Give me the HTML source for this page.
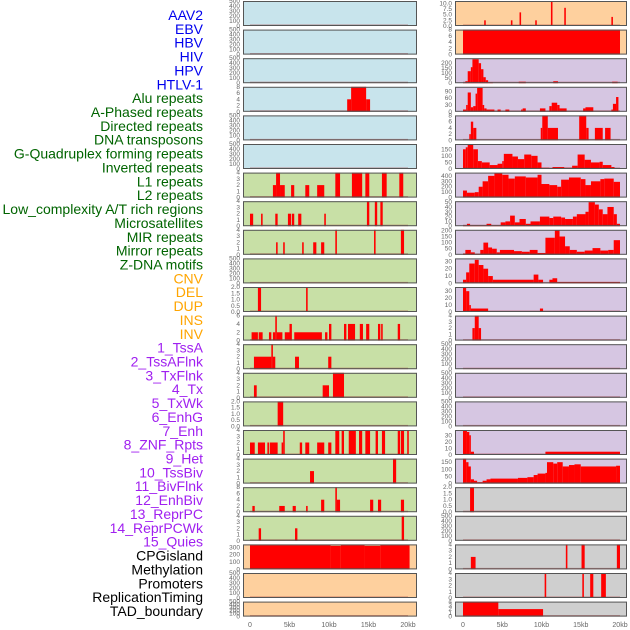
<!DOCTYPE html>
<html><head><meta charset="utf-8"><style>
body{margin:0;background:#fff;width:630px;height:630px;overflow:hidden;font-family:"Liberation Sans",sans-serif}
svg{display:block}
</style></head><body>
<svg id="c" width="630" height="630" xmlns="http://www.w3.org/2000/svg"></svg>
<script>
const labels=["AAV2","EBV","HBV","HIV","HPV","HTLV-1","Alu repeats","A-Phased repeats","Directed repeats","DNA transposons","G-Quadruplex forming repeats","Inverted repeats","L1 repeats","L2 repeats","Low_complexity A/T rich regions","Microsatellites","MIR repeats","Mirror repeats","Z-DNA motifs","CNV","DEL","DUP","INS","INV","1_TssA","2_TssAFlnk","3_TxFlnk","4_Tx","5_TxWk","6_EnhG","7_Enh","8_ZNF_Rpts","9_Het","10_TssBiv","11_BivFlnk","12_EnhBiv","13_ReprPC","14_ReprPCWk","15_Quies","CPGisland","Methylation","Promoters","ReplicationTiming","TAD_boundary"];
const labelColors=[0,0,0,0,0,0,1,1,1,1,1,1,1,1,1,1,1,1,1,2,2,2,2,2,3,3,3,3,3,3,3,3,3,3,3,3,3,3,3,4,4,4,4,4];
const palette=["#0000ee","#006400","#ffa500","#a020f0","#000000"];
const xTicks=[0,5,10,15,20];
const xTickLabels=["0","5kb","10kb","15kb","20kb"];
const leftBg=["b","b","b","b","b","b","g","g","g","g","g","g","g","g","g","g","g","g","g","o","o","o"];
const rightBg=["o","o","p","p","p","p","p","p","p","p","p","p","p","p","p","p","p","y","y","y","y","y"];
const leftTicks=[[0,100,200,300,400,500],[0,100,200,300,400,500],[0,100,200,300,400,500],[0,2,4,6,8],[0,100,200,300,400,500],[0,100,200,300,400,500],[0,1,2,3,4],[0,1,2,3,4],[0,1,2,3,4],[0,100,200,300,400,500],[0,0.5,1,1.5,2],[0,2,4,6],[0,1,2,3,4],[0,1,2,3,4],[0,0.5,1,1.5,2],[0,1,2,3,4],[0,1,2,3,4],[0,2,4,6,8],[0,1,2,3,4],[0,100,200,300],[0,100,200,300,400,500],[0,100,200,300,400,500]];
const leftYmax=[500,500,500,8,500,500,4,4,4,500,2,6,4,4,2,4,4,8,4,340,500,500];
const leftSegs=[[],[],[],
[[12.3,12.8,4],[12.8,14.7,8],[14.7,15.2,4]],[],[],
[[2.9,3.3,2],[3.3,3.8,4],[3.8,4.4,2],[5.2,5.6,2],[7,7.5,2],[8.5,9.4,2],[10.8,11.4,4],[12.9,14.2,4],[14.6,15.1,4],[16.7,17.3,4],[18.9,19.4,4]],
[[0,0.4,2],[1.4,1.6,2],[3.2,3.5,2],[4.8,5.2,2],[5.3,5.6,2],[6.1,6.5,2],[9.4,9.6,2],[14.8,15.1,4],[15.8,16.1,4],[16.5,16.8,4]],
[[3.3,3.5,2],[4.2,4.4,2],[6.6,6.8,2],[8,8.4,2],[9,9.4,2],[10.8,11,4],[15.7,15.9,4],[19.1,19.5,4]],
[],
[[1,1.4,2],[7.1,7.3,2]],
[[0.2,1.0,2],[1.1,1.6,2],[2.4,2.7,2],[2.9,3.2,2],[3.2,3.4,6],[3.4,4.1,2],[4.4,5.0,2],[5.0,5.3,4],[5.6,9.1,2],[9.5,9.8,2],[10,10.3,4],[11.9,12.2,4],[12.4,13.3,4],[13.9,14.3,4],[14.7,15.1,4],[16.2,16.5,4],[16.6,16.8,4],[18.7,19,4]],
[[0.5,2.7,2],[2.7,2.9,4],[2.9,3.2,2],[5.7,6.2,2],[9.9,10.3,2]],
[[0.5,0.85,2],[9.2,10,2],[10.5,11.9,4]],
[[3.5,4.2,2]],
[[0,0.6,2],[1,1.9,2],[2.2,2.4,2],[2.5,3.5,2],[4,4.2,2],[4.2,4.4,4],[6.3,6.6,2],[7,7.5,2],[8.5,9.4,2],[9.9,10.3,2],[10.8,11.3,4],[11.6,11.9,4],[12.5,13.4,4],[13.8,14.2,4],[14.6,15.2,4],[15.9,16.2,4],[16.7,17.1,4],[18.7,19,4],[19.1,19.5,4],[19.9,20.1,4]],
[[7.6,8.1,2],[18.1,18.5,4]],
[[0.3,0.6,2],[3.7,4.4,2],[5.4,5.8,2],[7.1,7.3,2],[9,9.4,4],[10.8,11,8],[11,11.4,4],[15.2,15.6,4],[16.2,16.6,4],[19.1,19.5,4]],
[[1.1,1.4,2],[5.7,6,2],[19.2,19.5,4]],
[[0,10.2,330],[10.2,11.5,320],[11.5,14.5,330],[14.5,16.5,320],[16.5,20.2,330]],
[],[]];
const rightTicks=[[0,2.5,5,7.5,10],[0,2,4,6,8],[0,50,100,150,200],[0,30,60,90],[0,2,4,6,8],[0,50,100,150],[0,100,200,300,400],[0,10,20,30,40,50],[0,50,100,150,200],[0,10,20,30],[0,10,20,30],[0,1,2,3,4],[0,100,200,300,400,500],[0,100,200,300,400,500],[0,100,200,300,400,500],[0,10,20,30],[0,50,100,150],[0,0.5,1,1.5,2],[0,100,200,300,400,500],[0,1,2,3,4],[0,1,2,3,4],[0,1,2,3,4]];
const rightYmax=[11,8,250,110,8,190,460,52,205,34,36,4,500,500,500,38,175,2,500,4,4,4];
const rightSegs=[
[[2.7,2.9,2.5],[6.1,6.3,2.5],[7.2,7.4,6],[9.2,9.4,2.5],[11.2,11.4,11],[12.9,13.1,8],[18.9,19.1,4]],
[[0,20,8]],
[[0,0.3,5],[0.3,0.6,20],[0.6,1.0,120],[1.0,1.2,160],[1.2,2.0,240],[2.0,2.3,200],[2.3,2.6,140],[2.6,2.9,60],[2.9,3.2,30],[3.2,3.8,10],[7.1,8.0,15],[11.5,12.1,20],[19.0,19.7,15]],
[[0,0.4,10],[0.4,0.6,30],[0.6,1.0,85],[1.0,1.3,20],[1.3,1.6,25],[1.6,1.8,80],[1.8,2.5,105],[2.5,2.7,30],[2.7,3.0,15],[3.0,4.0,10],[4.4,4.8,10],[5.4,5.9,10],[7.4,7.6,10],[7.6,8.0,15],[9.8,10.5,15],[11.0,11.3,25],[11.3,12.0,40],[12.0,12.3,30],[12.3,13.2,15],[15.3,15.6,15],[15.6,16.6,20],[18.9,19.1,10],[19.1,19.5,35],[19.5,19.8,65]],
[[0.8,1.0,2],[1.0,1.3,6],[1.3,1.7,4],[9.9,10.1,4],[10.1,10.8,8],[10.8,12.1,4],[14.8,15.7,8],[15.7,16.0,4],[16.8,17.8,4],[18.1,18.8,4]],
[[0,0.35,150],[0.35,0.6,165],[0.6,1.3,190],[1.3,1.9,150],[1.9,2.4,60],[2.4,3.4,50],[3.4,4.4,30],[4.4,5.0,40],[5.0,5.2,60],[5.2,6.3,115],[6.3,7.0,95],[7.0,7.8,75],[7.8,8.7,110],[8.7,9.5,100],[9.5,10,50],[10,11,10],[11.4,12.9,15],[12.9,13.9,10],[13.9,14.6,25],[14.6,15.5,110],[15.5,16.3,70],[16.3,17.4,50],[17.4,17.8,55],[17.8,18.9,30],[18.9,19.3,15],[19.3,19.7,5]],
[[0,0.5,130],[0.5,1.5,90],[1.5,2.0,100],[2.0,2.5,200],[2.5,3.2,300],[3.2,4,400],[4,5,450],[5,5.8,420],[5.8,6.6,350],[6.6,8,390],[8,9.5,370],[9.5,10,420],[10,11,250],[11,12,230],[12,12.5,200],[12.5,13.5,330],[13.5,15,370],[15,15.6,340],[15.6,16.3,230],[16.3,17.5,300],[17.5,18,340],[18,19.2,350],[19.2,20,290]],
[[0,0.5,2],[0.5,0.9,5],[0.9,3,2],[3,3.6,5],[3.6,4.8,2],[4.8,5.4,8],[5.4,6,10],[6,6.6,22],[6.6,7.2,8],[7.2,8,15],[8,8.6,5],[8.6,9.8,10],[9.8,11,20],[11,11.5,17],[11.5,12.5,20],[12.5,13,18],[13,14,15],[14,14.5,20],[14.5,15.6,25],[15.6,16,30],[16,16.8,50],[16.8,17.3,45],[17.3,17.8,35],[17.8,18.4,25],[18.4,19.2,40],[19.2,19.6,25],[19.6,20,5]],
[[0,0.3,10],[0.3,1,40],[1,1.5,20],[1.5,2.2,5],[2.2,2.6,40],[2.6,3.2,100],[3.2,3.7,60],[3.7,4.3,50],[4.3,4.7,20],[4.7,6.5,40],[6.5,7.5,30],[7.5,8.5,25],[8.5,9.5,40],[9.5,10.5,15],[10.5,11.7,140],[11.7,12.3,200],[12.3,13,150],[13,13.6,70],[13.6,14.5,40],[14.5,15.5,25],[15.5,16.5,35],[16.5,17.5,55],[17.5,18.5,35],[18.5,19.2,40],[19.2,20,120]],
[[0,0.4,5],[0.4,0.8,15],[0.8,1.5,27],[1.5,2,32],[2,2.6,25],[2.6,3.2,20],[3.2,3.8,10],[3.8,9,5],[9,9.6,12],[9.6,10.2,5],[11,11.4,5],[11.4,12,7],[12,20,2]],
[[0,0.4,36],[0.4,0.8,30],[0.8,1.0,10],[1.0,3.2,5],[3.2,9.8,1],[9.8,10.2,5],[10.2,20,1]],
[[1.2,1.5,2],[1.5,2,4],[2,2.3,2]],
[],[],[],
[[0,0.5,38],[0.5,0.8,35],[0.8,1.0,30],[1.0,1.4,5],[1.4,10.5,1],[10.5,20,5]],
[[0,0.4,175],[0.4,0.7,150],[0.7,1.0,120],[1.0,1.4,30],[1.4,1.8,20],[1.8,2.5,10],[2.5,3.0,20],[3.0,3.5,30],[3.5,7,35],[7,8.2,40],[8.2,9,45],[9,9.5,60],[9.5,10.5,70],[10.5,10.7,75],[10.7,11.5,150],[11.5,12,140],[12,12.7,150],[12.7,13.5,120],[13.5,14.2,130],[14.2,15,135],[15,19.5,120],[19.5,20,125]],
[[0.9,1.4,2]],
[],
[[1.0,1.6,2],[13.1,13.3,4],[15.1,15.5,4],[19.6,20,4]],
[[10.4,10.6,4],[15.2,15.4,4],[16.2,16.6,4],[17.6,18.2,4]],
[[0,4.5,4],[4.5,10.2,2]]];

const NS="http://www.w3.org/2000/svg";
const svg=document.getElementById('c');
const bgMap={b:"#c8e4ec",g:"#c8e0a6",o:"#fed09e",p:"#d6c6e2",y:"#cfcfcf"};
function mk(tag,attrs,parent){const e=document.createElementNS(NS,tag);for(const k in attrs)e.setAttribute(k,attrs[k]);(parent||svg).appendChild(e);return e;}
function rowTop(i){return 1+i*28.6;}
function rowH(i){return i===21?15:25;}
labels.forEach((t,j)=>{
  const e=mk('text',{x:203,y:15+j*13.86+5,'text-anchor':'end','font-size':'14',fill:palette[labelColors[j]]});
  e.textContent=t;
  
  
});
function drawCol(side,x0,x1,zeroX,kbScale,bgs,ticks,ymaxs,segs){
  for(let i=0;i<22;i++){
    const top=rowTop(i),h=rowH(i),bot=top+h;
    const g=mk('g',{});
    
    
    mk('rect',{x:x0,y:top,width:x1-x0,height:h,fill:bgMap[bgs[i]]},g);
    const ys=v=>bot-v/ymaxs[i]*h;
    const xs=k=>zeroX+k*kbScale;
    segs[i].forEach(s=>{
      const r=mk('rect',{x:xs(s[0]),y:ys(Math.min(s[2],ymaxs[i])),width:Math.max(1,xs(s[1])-xs(s[0])),height:bot-ys(Math.min(s[2],ymaxs[i])),fill:"#ff0000"},g);
      
      
    });
    mk('rect',{x:xs(0),y:bot-1.5,width:xs(20)-xs(0),height:1.5,fill:"rgba(160,30,30,0.45)"},g);
    mk('rect',{x:x0+0.5,y:top+0.5,width:x1-x0-1,height:h-1,fill:"none",stroke:"#555",'stroke-width':1},g);
    const dec=ticks[i].some(v=>v%1!==0);
    ticks[i].forEach(v=>{
      const t=mk('text',{x:x0-3,y:ys(v)+2,'text-anchor':'end','font-size':'6.5',fill:"#666"},g);
      t.textContent=dec?v.toFixed(1):String(v);
      
      
    });
  }
  xTicks.forEach((k,j)=>{
    const t=mk('text',{x:zeroX+k*kbScale,y:627,'text-anchor':'middle','font-size':'7',fill:"#666"});
    t.textContent=xTickLabels[j];
    
    
  });
}
drawCol('left',243,417,250,7.9,leftBg,leftTicks,leftYmax,leftSegs);
drawCol('right',455,627,463,7.85,rightBg,rightTicks,rightYmax,rightSegs);
</script>
</body></html>
